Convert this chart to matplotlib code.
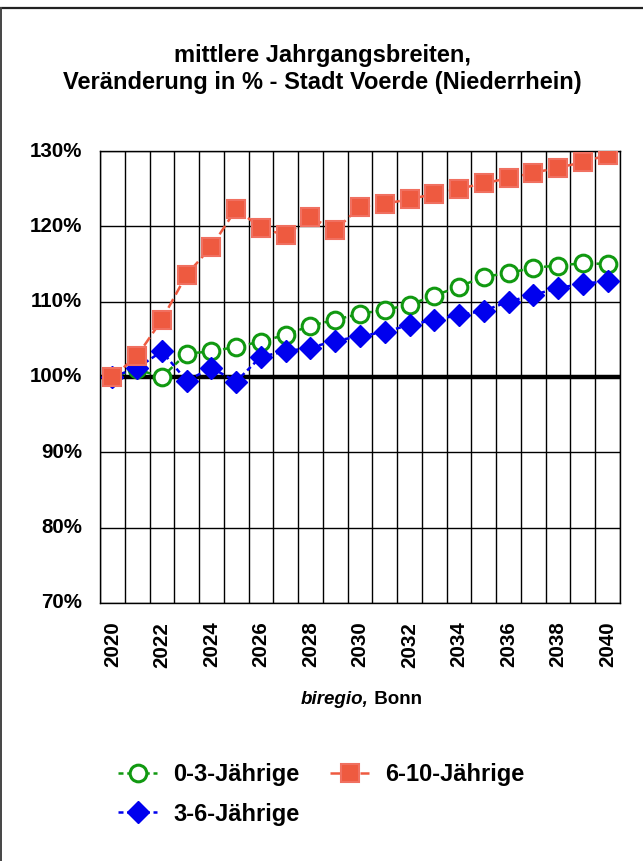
import matplotlib
matplotlib.use('Agg')
import matplotlib.pyplot as plt
from matplotlib.lines import Line2D
from matplotlib.ticker import FixedLocator, FuncFormatter

plt.rcParams['font.family'] = ['Liberation Sans', 'DejaVu Sans']
plt.rcParams['font.weight'] = 'bold'

years = list(range(2020, 2041))
age_0_3 = [100.0, 101.0, 100.0, 103.1, 103.4, 104.0, 104.7, 105.6, 106.8, 107.6, 108.4,
           108.9, 109.6, 110.8, 112.0, 113.3, 113.8, 114.5, 114.8, 115.1, 115.0]
age_3_6 = [100.0, 101.2, 103.4, 99.5, 101.2, 99.4, 102.7, 103.4, 103.9, 104.8, 105.4,
           106.0, 106.9, 107.6, 108.2, 108.8, 110.0, 110.9, 111.8, 112.4, 112.7]
age_6_10 = [100.0, 102.8, 107.6, 113.6, 117.3, 122.3, 119.8, 118.8, 121.2, 119.5, 122.6,
            123.0, 123.6, 124.3, 125.0, 125.7, 126.4, 127.1, 127.8, 128.5, 129.5]
y_ticks = [70, 80, 90, 100, 110, 120, 130]
year_labels = [y for y in years if y % 2 == 0]

fig = plt.figure(figsize=(6.43, 8.61), dpi=100)
ax = fig.add_axes([0.1555, 0.2997, 0.8087, 0.5249])

x = list(range(len(years)))

# grid lines between categories
for i in range(len(years) + 1):
    ax.axvline(i - 0.5, color='black', lw=1.0, zorder=1)
for t in y_ticks:
    ax.axhline(t, color='black', lw=1.0, zorder=1)
ax.plot([-0.5, len(years) - 0.5], [100, 100], color='black', lw=3.2, zorder=2, solid_capstyle='butt')

l1, = ax.plot(x, age_0_3, color='#119911', ls=(0, (2, 1.5)), lw=1.8, marker='o', ms=12,
              mfc='white', mec='#119911', mew=2.2, zorder=3, label='0-3-Jährige')
l2, = ax.plot(x, age_3_6, color='#0000ee', ls=(0, (2, 1.5)), lw=1.8, marker='D', ms=11,
              mfc='#0000ee', mec='#0000ee', zorder=4, label='3-6-Jährige')
l3, = ax.plot(x, age_6_10, color='#ee5a40', ls=(0, (4, 2)), lw=1.8, marker='s', ms=13,
              mfc='#ee5a40', mec='#f07060', mew=1.5, zorder=5, label='6-10-Jährige')

ax.set_xlim(-0.5, len(years) - 0.5)
ax.set_ylim(70, 130)
ax.yaxis.set_major_locator(FixedLocator(y_ticks))
ax.yaxis.set_major_formatter(FuncFormatter(lambda v, p: f'{v:.0f}%'))
ax.set_xticks([years.index(y) for y in year_labels])
ax.set_xticklabels([str(y) for y in year_labels], rotation=90, fontsize=14.8, fontweight='bold')
ax.tick_params(axis='both', length=0)
ax.tick_params(axis='x', pad=13.5)
ax.tick_params(axis='y', pad=13, labelsize=14.8)
for lab in ax.get_yticklabels():
    lab.set_fontweight('bold')
    lab.set_verticalalignment('center')
for s in ax.spines.values():
    s.set_linewidth(1.0)

fig.text(0.501, 0.9196, 'mittlere Jahrgangsbreiten,\nVeränderung in % - Stadt Voerde (Niederrhein)',
         ha='center', va='center', fontsize=17, fontweight='bold', linespacing=1.25)

fig.text(0.5739, 0.188, 'biregio,', ha='right', va='center', fontsize=13.5,
         fontweight='bold', style='italic')
fig.text(0.5739, 0.188, ' Bonn', ha='left', va='center', fontsize=13.5, fontweight='bold')

fig.legend(handles=[l1, l2, l3], ncol=2, loc='upper left', bbox_to_anchor=(0.151, 0.1385),
           frameon=False, handlelength=1.65, columnspacing=1.3,
           labelspacing=0.7, handletextpad=0.68, prop={'weight': 'bold', 'size': 17})

# outer frame (top and left only)
fig.add_artist(Line2D([0, 1], [0.9907, 0.9907], color='#222222', lw=1.6, transform=fig.transFigure))
fig.add_artist(Line2D([0.0015, 0.0015], [0, 0.9907], color='#444444', lw=1.4, transform=fig.transFigure))

fig.savefig('out.png', dpi=100)
